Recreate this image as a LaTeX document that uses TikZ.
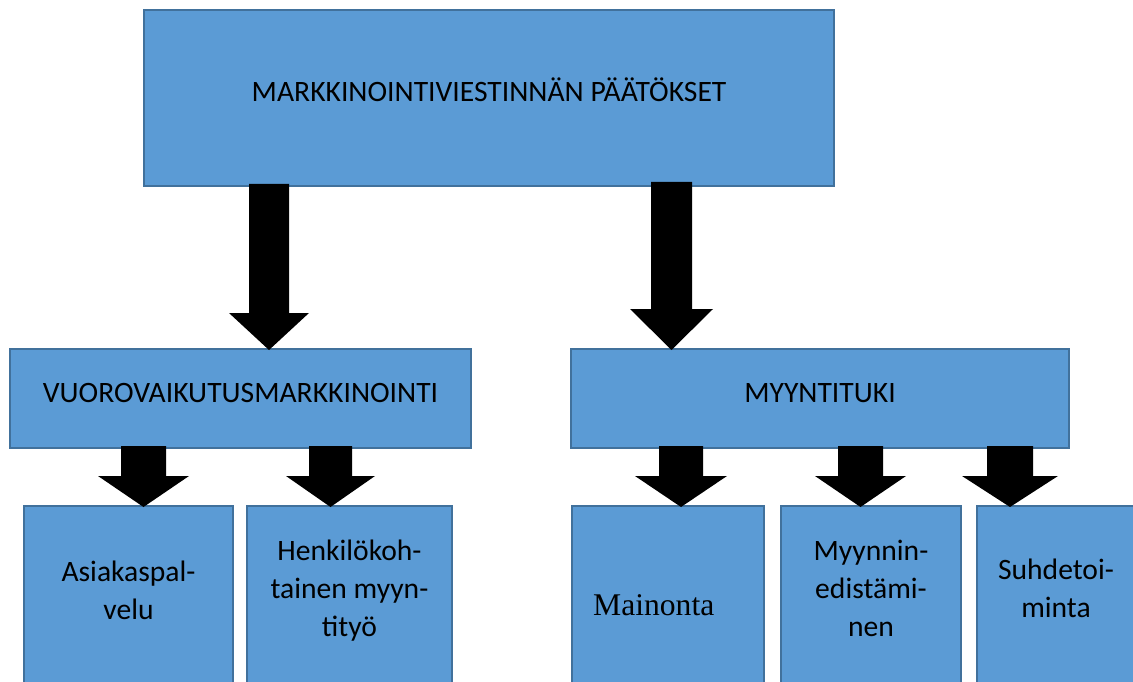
\documentclass[tikz,border=0pt]{standalone}
\usepackage{fontspec}
\setmainfont{Carlito}
\newfontfamily\timesfont{Liberation Serif}
\usetikzlibrary{calc}

\definecolor{boxfill}{HTML}{5B9BD5}
\definecolor{boxline}{HTML}{41719C}

% block arrow from the bottom of #2 to the top of #3, centred on x = #4,
% shaft half width #5, head half width #6, head length #7, overlap #1
\newcommand\blockarrow[7][2]{%
  \fill[arrowfill] let \p1=(#2.south), \p2=(#3.north) in
    (#4pt-#5pt,\y1+#1pt) -- (#4pt+#5pt,\y1+#1pt) -- (#4pt+#5pt,\y2-1pt+#7pt)
    -- (#4pt+#6pt,\y2-1pt+#7pt) -- (#4pt,\y2-1pt) -- (#4pt-#6pt,\y2-1pt+#7pt)
    -- (#4pt-#5pt,\y2-1pt+#7pt) -- cycle;}

\tikzset{
  box/.style={rectangle, draw=boxline, fill=boxfill, line width=2pt,
    inner sep=0pt, outer sep=0pt, anchor=north west},
  headbox/.style={box, font=\fontsize{29.6}{38}\selectfont,
    text height=21pt, text depth=14pt},
  boxtext/.style={inner sep=0pt, align=center, anchor=north,
    font=\fontsize{29.6}{38}\selectfont},
  arrowfill/.style={fill=black},
}

\begin{document}
\begin{tikzpicture}[x=1pt, y=-1pt]
\useasboundingbox (0,0) rectangle (1133,682);
\clip (0,0) rectangle (1133,682);

% boxes
\node[headbox, minimum width=690pt, minimum height=176pt] (top) at (144,10)
  {MARKKINOINTIVIESTINNÄN PÄÄTÖKSET};
\node[headbox, minimum width=461pt, minimum height=99pt] (vuoro) at (10,349)
  {VUOROVAIKUTUSMARKKINOINTI};
\node[headbox, minimum width=498pt, minimum height=99pt] (myynti) at (571,349)
  {MYYNTITUKI};

\node[box, minimum width=209pt, minimum height=250pt] (asiakas) at (24,506) {};
\node[box, minimum width=205pt, minimum height=250pt] (henk) at (247,506) {};
\node[box, minimum width=192pt, minimum height=250pt] (mainonta) at (572,506) {};
\node[box, minimum width=180pt, minimum height=250pt] (edist) at (781,506) {};
\node[box, minimum width=180pt, minimum height=250pt] (suhde) at (977,506) {};

% texts of the lower boxes
\node[boxtext] (asiakas-t) at (128.5,554.4) {\strut Asiakaspal-\\velu};
\node[boxtext] (henk-t) at (349.5,533.4) {\strut Henkilökoh-\\tainen myyn-\\tityö};
\node[anchor=base west, inner sep=0pt, font=\timesfont\fontsize{31.6}{38}\selectfont]
  (mainonta-t) at (593,615) {Mainonta};
\node[boxtext] (edist-t) at (871,533.4) {\strut Myynnin-\\edistämi-\\nen};
\node[boxtext] (suhde-t) at (1056,552.4) {\strut Suhdetoi-\\minta};

% arrows
\blockarrow{top}{vuoro}{269}{20}{40}{37}
\blockarrow[4]{top}{myynti}{671.5}{20.5}{41.5}{41}
\blockarrow{vuoro}{asiakas}{143.5}{22.5}{45.5}{31}
\blockarrow{vuoro}{henk}{330.5}{21.5}{44.5}{31}
\blockarrow{myynti}{mainonta}{681}{22}{46}{31}
\blockarrow{myynti}{edist}{860.5}{22.5}{45.5}{31}
\blockarrow{myynti}{suhde}{1010}{23}{48}{31}
\end{tikzpicture}
\end{document}
